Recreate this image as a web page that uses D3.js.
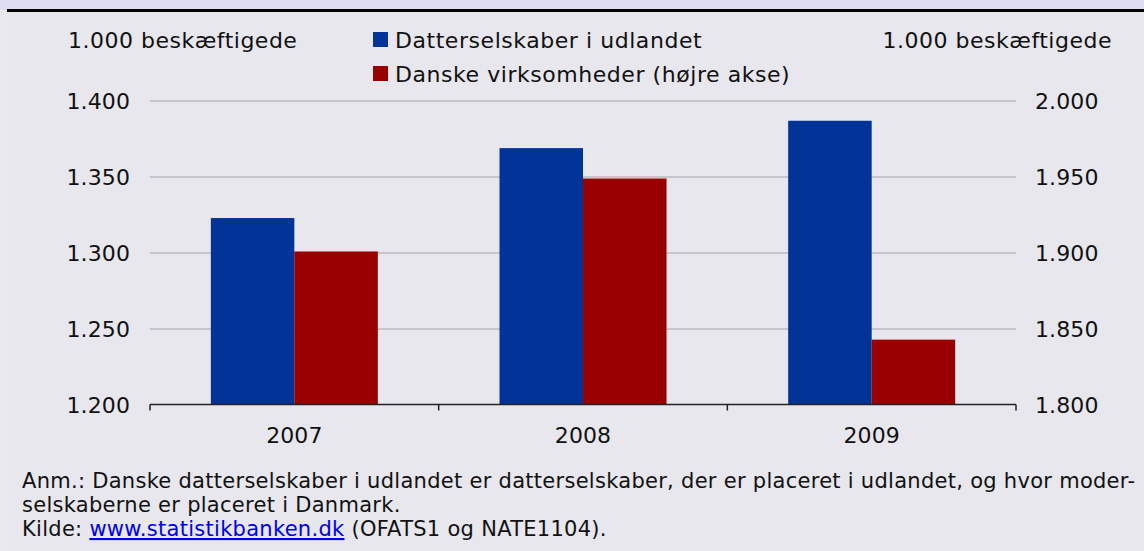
<!DOCTYPE html>
<html>
<head>
  <meta charset="utf-8">
  <title>Beskæftigede</title>
  <script src="https://cdnjs.cloudflare.com/ajax/libs/d3/7.8.5/d3.min.js"></script>
  <style>
    body { margin: 0; background: #e7e7ed; }
    svg { display: block; font-family: "DejaVu Sans", Verdana, sans-serif; }
  </style>
</head>
<body>
  <script>
    var years = ["2007", "2008", "2009"];
    var datter = [1323, 1369, 1387];     // venstre akse
    var danske = [1901, 1949, 1843];     // højre akse
    var leftTicks = [1200, 1250, 1300, 1350, 1400];
    var rightTicks = [1800, 1850, 1900, 1950, 2000];
    var seriesNames = ["Datterselskaber i udlandet", "Danske virksomheder (højre akse)"];
    var colors = ["#023397", "#990000"];

    var W = 1144, H = 551;
    var svg = d3.select("body").append("svg").attr("width", W).attr("height", H);

    // baggrund
    svg.append("rect").attr("width", W).attr("height", H).attr("fill", "#e7e7ed");
    svg.append("rect").attr("width", W).attr("height", 10).attr("fill", "#dedff3");
    svg.append("rect").attr("x", 0).attr("y", 10).attr("width", 7).attr("height", H - 10).attr("fill", "#e9e9ef");
    svg.append("rect").attr("x", 7).attr("y", 9).attr("width", W - 7).attr("height", 3).attr("fill", "#000");

    var x0 = 150, x1 = 1016, yTop = 101, yBot = 405;

    var x = d3.scaleBand().domain(years).range([x0, x1]);
    var xs = d3.scaleBand().domain([0, 1]).range([0, 167]);
    var yL = d3.scaleLinear().domain([1200, 1400]).range([yBot, yTop]);
    var yR = d3.scaleLinear().domain([1800, 2000]).range([yBot, yTop]);

    // gitterlinjer
    svg.append("g").selectAll("line").data(leftTicks.slice(1)).join("line")
      .attr("x1", x0).attr("x2", x1)
      .attr("y1", d => yL(d)).attr("y2", d => yL(d))
      .attr("stroke", "#c6c6c8").attr("stroke-width", 2);

    // søjler
    var bars = [];
    years.forEach(function (yr, i) {
      bars.push({ yr: yr, s: 0, v: datter[i], y: yL(datter[i]) });
      bars.push({ yr: yr, s: 1, v: danske[i], y: yR(danske[i]) });
    });
    svg.append("g").selectAll("rect").data(bars).join("rect")
      .attr("x", d => x(d.yr) + (x.bandwidth() - 167) / 2 + xs(d.s))
      .attr("width", xs.bandwidth())
      .attr("y", d => d.y)
      .attr("height", d => yBot - d.y)
      .attr("fill", d => colors[d.s]);

    // x-akse
    var gx = svg.append("g").attr("transform", "translate(0," + (yBot - 0.5) + ")")
      .call(d3.axisBottom(x).tickSize(0).tickPadding(23));
    gx.select(".domain").remove();
    gx.append("line").attr("x1", x0).attr("x2", x1).attr("stroke", "#222").attr("stroke-width", 1.5);
    gx.selectAll(".tk").data(years.concat(["end"])).join("line")
      .attr("x1", (d, i) => x0 + i * x.step()).attr("x2", (d, i) => x0 + i * x.step())
      .attr("y1", 0).attr("y2", 6).attr("stroke", "#222").attr("stroke-width", 1.5);

    // y-akser
    var fmtInt = function (d) { return d3.format(",")(d).replace(",", "."); };

    var gl = svg.append("g").attr("transform", "translate(" + (x0 - 17) + ",0)")
      .call(d3.axisLeft(yL).tickValues(leftTicks).tickSize(0).tickFormat(fmtInt));
    gl.select(".domain").remove();
    var gr = svg.append("g").attr("transform", "translate(" + (x1 + 16) + ",0)")
      .call(d3.axisRight(yR).tickValues(rightTicks).tickSize(0).tickFormat(fmtInt));
    gr.select(".domain").remove();
    svg.selectAll(".tick text").attr("font-size", 22).attr("fill", "#111")
      .attr("font-family", "DejaVu Sans").attr("letter-spacing", 0.1);

    // aksetitler
    svg.append("text").attr("x", 68).attr("y", 48).attr("font-size", 22).attr("letter-spacing", 0.5)
      .attr("fill", "#111").text("1.000 beskæftigede");
    svg.append("text").attr("x", 1112).attr("y", 48).attr("text-anchor", "end").attr("font-size", 22)
      .attr("letter-spacing", 0.5).attr("fill", "#111").text("1.000 beskæftigede");

    // legende
    var lg = svg.append("g").selectAll("g").data(seriesNames).join("g")
      .attr("transform", (d, i) => "translate(373," + (32 + i * 34) + ")");
    lg.append("rect").attr("width", 15).attr("height", 15).attr("fill", (d, i) => colors[i]);
    lg.append("text").attr("x", 22).attr("y", 16).attr("font-size", 22).attr("letter-spacing", 0.55)
      .attr("fill", "#111").text(d => d);

    // noter
    var notes = svg.append("g").attr("font-size", 21).attr("letter-spacing", 0.28).attr("fill", "#111");
    notes.append("text").attr("x", 22).attr("y", 488)
      .text("Anm.: Danske datterselskaber i udlandet er datterselskaber, der er placeret i udlandet, og hvor moder-");
    notes.append("text").attr("x", 22).attr("y", 512).text("selskaberne er placeret i Danmark.");
    var kilde = notes.append("text").attr("x", 22).attr("y", 536);
    kilde.append("tspan").text("Kilde: ");
    kilde.append("tspan").attr("fill", "#0000ee").attr("text-decoration", "underline").text("www.statistikbanken.dk");
    kilde.append("tspan").text(" (OFATS1 og NATE1104).");
  </script>
</body>
</html>
